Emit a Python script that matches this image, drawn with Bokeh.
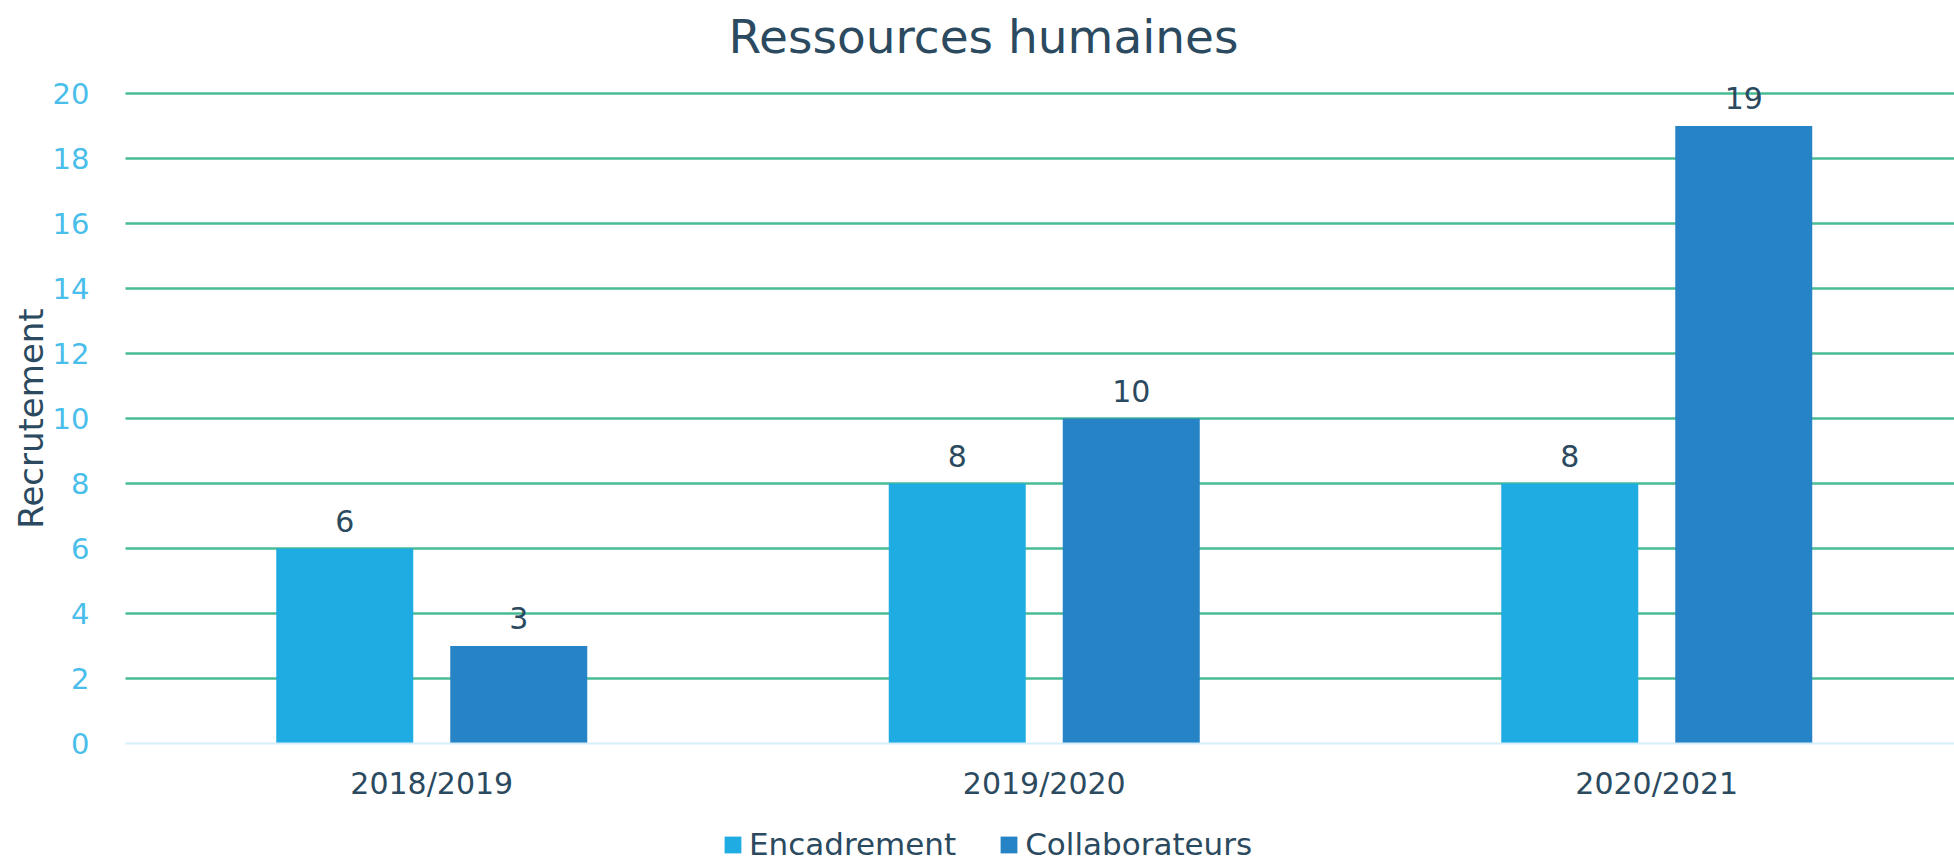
import math
from bokeh.plotting import figure
from bokeh.models import (ColumnDataSource, Range1d, FixedTicker, LabelSet, Label,
                          Legend, LegendItem)
from bokeh.core.properties import value
from bokeh.transform import dodge
from bokeh.embed import file_html
from bokeh.resources import INLINE

# ---- data ----
categories = ["2018/2019", "2019/2020", "2020/2021"]
encadrement = [6, 8, 8]
collaborateurs = [3, 10, 19]
series_names = ["Encadrement", "Collaborateurs"]
y_ticks = list(range(0, 21, 2))
title_text = "Ressources humaines"
y_label = "Recrutement"

# ---- style ----
FONT = "DejaVu Sans"
NAVY = "#2B4A60"
TICK_BLUE = "#4ABEEA"
GRID_GREEN = "#48BB93"
AXIS_BLUE = "#D6EEF9"
C_ENC = "#1FACE2"
C_COL = "#2683C6"

# layout geometry (pixels)
W, H = 1954, 862
PX_X = 612.5        # pixels per category
PX_Y = 32.5         # pixels per unit
LEFT = 125          # canvas x of category axis start
ZERO = 743          # canvas y of value 0

xpos = [i + 0.5 for i in range(len(categories))]
src = ColumnDataSource(dict(x=xpos, enc=encadrement, col=collaborateurs,
                            enc_s=[str(v) for v in encadrement],
                            col_s=[str(v) for v in collaborateurs]))

x_lo, x_hi = -LEFT / PX_X, (W - LEFT) / PX_X
y_lo, y_hi = -(H - ZERO) / PX_Y, ZERO / PX_Y
p = figure(width=W, height=H, output_backend="svg", toolbar_location=None,
           x_range=Range1d(x_lo, x_hi), y_range=Range1d(y_lo, y_hi),
           min_border=0, min_border_left=0, min_border_right=0,
           min_border_top=0, min_border_bottom=0)
p.outline_line_color = None
p.background_fill_color = "white"
p.border_fill_color = "white"
p.grid.visible = False

# horizontal grid lines (ticks above zero)
grid_src = ColumnDataSource(dict(y=y_ticks[1:]))
p.segment(x0=0, x1=x_hi, y0="y", y1="y", source=grid_src,
          line_color=GRID_GREEN, line_width=2.5)

BW = 137 / PX_X
OFF = 87 / PX_X
r1 = p.vbar(x=dodge("x", -OFF), top="enc", width=BW, bottom=0, source=src,
            fill_color=C_ENC, line_color=None)
r2 = p.vbar(x=dodge("x", OFF), top="col", width=BW, bottom=0, source=src,
            fill_color=C_COL, line_color=None)

# y axis (inside frame at x=0)
p.yaxis.fixed_location = 0
p.yaxis.bounds = (0, 20)
p.yaxis.ticker = FixedTicker(ticks=y_ticks)
p.yaxis.axis_line_color = None
p.yaxis.major_tick_line_color = None
p.yaxis.minor_tick_line_color = None
p.yaxis.major_label_standoff = 30
p.yaxis.major_label_text_font = FONT
p.yaxis.major_label_text_font_size = "29px"
p.yaxis.major_label_text_color = TICK_BLUE

# x axis (inside frame at y=0)
p.xaxis.fixed_location = 0
p.xaxis.bounds = (0, x_hi)
p.xaxis.ticker = FixedTicker(ticks=xpos)
p.xaxis.major_label_overrides = {x: c for x, c in zip(xpos, categories)}
p.xaxis.axis_line_color = AXIS_BLUE
p.xaxis.axis_line_width = 2
p.xaxis.major_tick_line_color = None
p.xaxis.minor_tick_line_color = None
p.xaxis.major_label_standoff = 16
p.xaxis.major_label_text_font = FONT
p.xaxis.major_label_text_font_size = "30px"
p.xaxis.major_label_text_color = NAVY

# y axis title
p.add_layout(Label(x=(30 - LEFT) / PX_X, y=10, text=y_label, angle=math.pi / 2,
                   text_align="center", text_baseline="alphabetic",
                   text_font=FONT, text_font_size="34px", text_color=NAVY))

# chart title
p.add_layout(Label(x=(983 - LEFT) / PX_X, y=(ZERO - 36) / PX_Y, text=title_text,
                   text_align="center", text_baseline="alphabetic",
                   text_font=FONT, text_font_size="47px", text_color=NAVY))

# data labels
for col, scol, off in (("enc", "enc_s", -OFF), ("col", "col_s", OFF)):
    p.add_layout(LabelSet(x=dodge("x", off), y=col, text=scol, source=src,
                          y_offset=17, text_align="center",
                          text_baseline="alphabetic", text_font=value(FONT),
                          text_font_size=value("30px"), text_color=NAVY))

# legend
legend = Legend(items=[LegendItem(label=series_names[0], renderers=[r1]),
                       LegendItem(label=series_names[1], renderers=[r2])],
                orientation="horizontal", location=(722, 0),
                padding=0, margin=0, spacing=42, label_standoff=6,
                glyph_width=21, glyph_height=21,
                border_line_color=None, background_fill_alpha=0,
                label_text_font=FONT, label_text_font_size="31px",
                label_text_color=NAVY)
p.add_layout(legend, "center")

open("out.html", "w").write(file_html(p, INLINE))
